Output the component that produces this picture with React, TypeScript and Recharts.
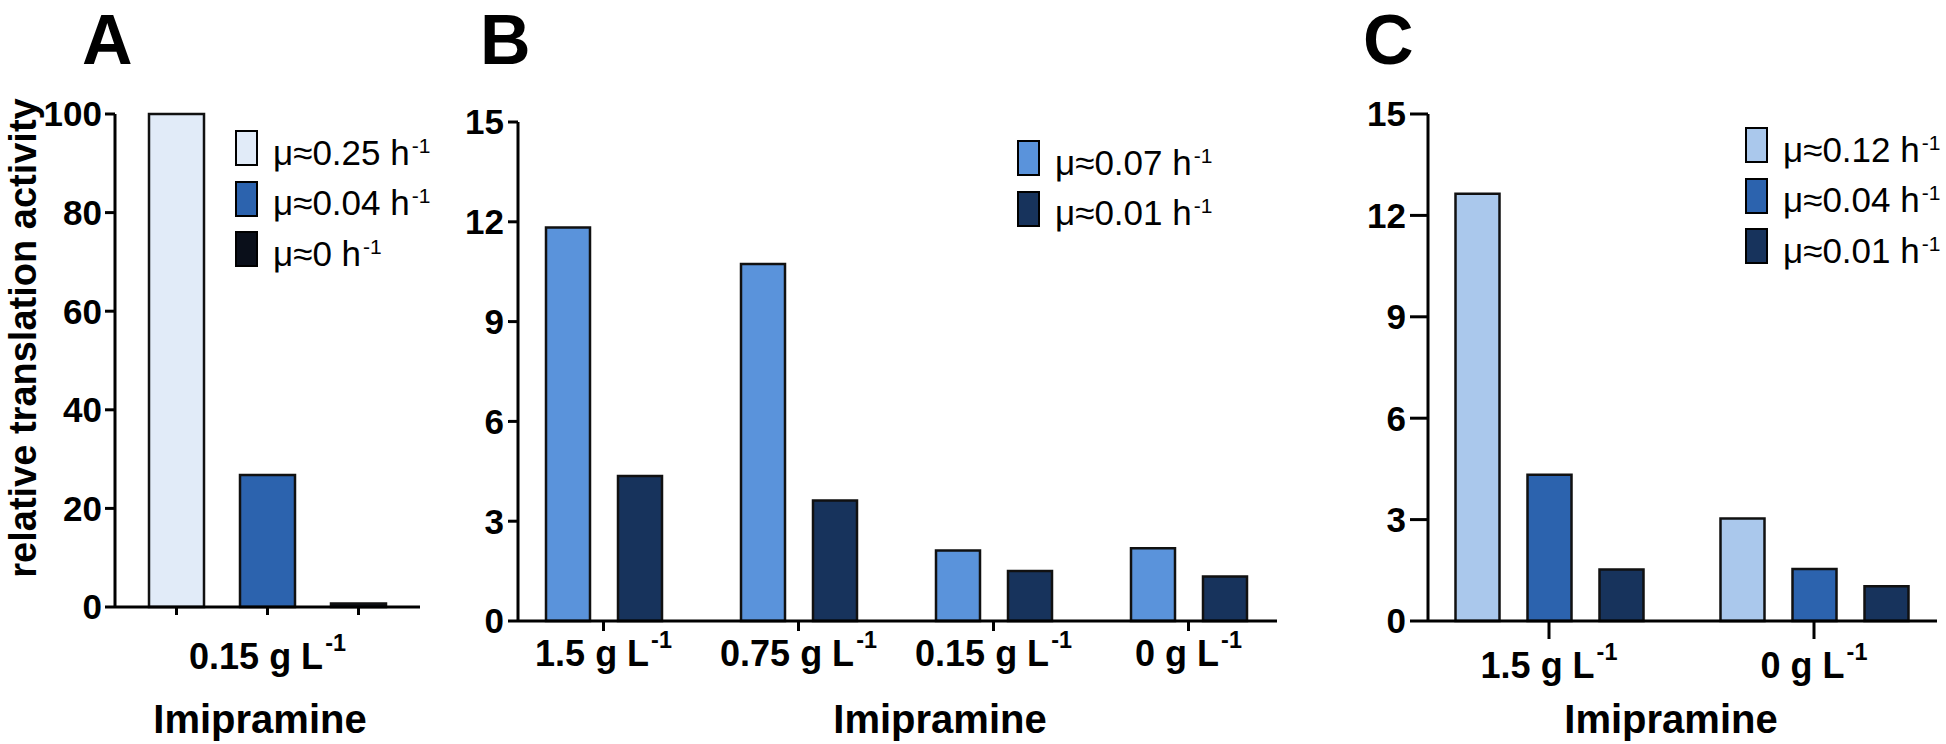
import { Bar, BarChart, Cell, Label, Legend, XAxis, YAxis } from "recharts";

const FONT = "'Liberation Sans', Arial, Helvetica, sans-serif";

// panel A: one dose, three growth rates
const aRates = ["μ≈0.25", "μ≈0.04", "μ≈0"];
const aValues = [100, 26.8, 0.7];
const aColors = ["#E1EBF8", "#2C63AE", "#0A0F1A"];
const aTicks = [0, 20, 40, 60, 80, 100];
const aDose = "0.15 g L";

// panel B
const bDoses = ["1.5 g L", "0.75 g L", "0.15 g L", "0 g L"];
const bFast = [11.83, 10.73, 2.12, 2.19];
const bSlow = [4.36, 3.62, 1.5, 1.34];
const bRates = ["μ≈0.07", "μ≈0.01"];
const bColors = ["#5A93DB", "#17335C"];

// panel C
const cDoses = ["1.5 g L", "0 g L"];
const cFast = [12.64, 3.03];
const cMid = [4.33, 1.54];
const cSlow = [1.52, 1.03];
const cRates = ["μ≈0.12", "μ≈0.04", "μ≈0.01"];
const cColors = ["#AAC8EC", "#2C63AE", "#17335C"];

const yTicks15 = [0, 3, 6, 9, 12, 15];

const aData = aRates.map((rate, i) => ({ rate, value: aValues[i] }));
const bData = bDoses.map((dose, i) => ({ dose, fast: bFast[i], slow: bSlow[i] }));
const cData = cDoses.map((dose, i) => ({ dose, fast: cFast[i], mid: cMid[i], slow: cSlow[i] }));

const axisStyle = { stroke: "#000", strokeWidth: 3 };
const yTickStyle = { fill: "#000", fontSize: 35, fontWeight: 700, fontFamily: FONT };

const doseTick = (labels: (string | null)[] | null) => (props: any) => {
  const { x, y, index, payload } = props;
  const text = labels ? labels[index] : payload.value;
  if (!text) return <g />;
  const fs = 36;
  return (
    <text x={x} y={y} dy="0.71em" textAnchor="middle" fontFamily={FONT} fontWeight={700} fontSize={fs} fill="#000">
      {text}
      <tspan dx={2} dy={-0.5 * fs} fontSize={0.65 * fs}>-1</tspan>
    </text>
  );
};

const axisTitle = (x: number, y: number) => () => (
  <text x={x} y={y} textAnchor="middle" fontFamily={FONT} fontWeight={700} fontSize={40} fill="#000">
    Imipramine
  </text>
);

const yTitle = () => (
  <text x={36} y={338} transform="rotate(-90 36 338)" textAnchor="middle" fontFamily={FONT} fontWeight={700} fontSize={38} fill="#000">
    relative translation activity
  </text>
);

const legendBox = (names: string[], colors: string[]) => () => (
  <div style={{ fontFamily: FONT, fontSize: 35, color: "#000", whiteSpace: "nowrap" }}>
    {names.map((n, i) => (
      <div key={n} style={{ display: "flex", alignItems: "center", height: 50.5 }}>
        <span style={{ width: 23, height: 36, boxSizing: "border-box", border: "2.5px solid #000", background: colors[i] }} />
        <span style={{ marginLeft: 15, position: "relative", top: 4, lineHeight: 1 }}>
          {n} h
          <sup style={{ fontSize: "0.6em", verticalAlign: "baseline", position: "relative", top: "-0.57em", marginLeft: 2 }}>-1</sup>
        </span>
      </div>
    ))}
  </div>
);

const letter = (ch: string, left: number) => (
  <div style={{ position: "absolute", left, top: 5, fontFamily: FONT, fontWeight: 700, fontSize: 70, lineHeight: "70px" }}>{ch}</div>
);

export default function App() {
  return (
    <div style={{ position: "absolute", left: 0, top: 0, width: 1946, height: 744, overflow: "hidden", background: "#fff" }}>
      {letter("A", 82)}
      {letter("B", 480)}
      {letter("C", 1363)}

      <div style={{ position: "absolute", left: 0, top: 0 }}>
        <BarChart width={480} height={744} data={aData} margin={{ top: 114, right: 60, bottom: 7, left: 15 }} barSize={55}>
          <XAxis dataKey="rate" height={130} padding={{ left: 16, right: 16 }} interval={0}
            axisLine={axisStyle} tickLine={axisStyle} tickSize={8} tickMargin={28} tick={doseTick([null, aDose, null])}>
            <Label content={axisTitle(260, 733)} />
          </XAxis>
          <YAxis width={100} domain={[0, 100]} ticks={aTicks} interval={0}
            axisLine={axisStyle} tickLine={axisStyle} tickSize={10} tickMargin={3} tick={yTickStyle}>
            <Label content={yTitle} />
          </YAxis>
          <Bar dataKey="value" isAnimationActive={false} stroke="#111" strokeWidth={2.5}>
            {aData.map((d, i) => <Cell key={d.rate} fill={aColors[i]} />)}
          </Bar>
          <Legend layout="horizontal" verticalAlign="middle" align="center" content={legendBox(aRates, aColors)}
            wrapperStyle={{ left: 235, top: 123, width: "auto" }} />
        </BarChart>
      </div>

      <div style={{ position: "absolute", left: 440, top: 0 }}>
        <BarChart width={860} height={744} data={bData} margin={{ top: 122, right: 23, bottom: 7, left: 8 }} barSize={44} barGap={28}>
          <XAxis dataKey="dose" height={116} padding={{ left: -12, right: -9 }} interval={0}
            axisLine={axisStyle} tickLine={axisStyle} tickSize={10} tickMargin={9} tick={doseTick(null)}>
            <Label content={axisTitle(500, 733)} />
          </XAxis>
          <YAxis width={70} domain={[0, 15]} ticks={yTicks15} interval={0}
            axisLine={axisStyle} tickLine={axisStyle} tickSize={10} tickMargin={4} tick={yTickStyle} />
          <Bar dataKey="fast" fill={bColors[0]} isAnimationActive={false} stroke="#111" strokeWidth={2.5} />
          <Bar dataKey="slow" fill={bColors[1]} isAnimationActive={false} stroke="#111" strokeWidth={2.5} />
          <Legend layout="horizontal" verticalAlign="middle" align="center" content={legendBox(bRates, bColors)}
            wrapperStyle={{ left: 577, top: 133, width: "auto" }} />
        </BarChart>
      </div>

      <div style={{ position: "absolute", left: 1340, top: 0 }}>
        <BarChart width={606} height={744} data={cData} margin={{ top: 114, right: 9, bottom: 7, left: 8 }} barSize={44} barGap={28}>
          <XAxis dataKey="dose" height={116} padding={{ left: -11.5, right: -9.5 }} interval={0}
            axisLine={axisStyle} tickLine={axisStyle} tickSize={18} tickMargin={13} tick={doseTick(null)}>
            <Label content={axisTitle(331, 733)} />
          </XAxis>
          <YAxis width={80} domain={[0, 15]} ticks={yTicks15} interval={0}
            axisLine={axisStyle} tickLine={axisStyle} tickSize={18} tickMargin={4} tick={yTickStyle} />
          <Bar dataKey="fast" fill={cColors[0]} isAnimationActive={false} stroke="#111" strokeWidth={2.5} />
          <Bar dataKey="mid" fill={cColors[1]} isAnimationActive={false} stroke="#111" strokeWidth={2.5} />
          <Bar dataKey="slow" fill={cColors[2]} isAnimationActive={false} stroke="#111" strokeWidth={2.5} />
          <Legend layout="horizontal" verticalAlign="middle" align="center" content={legendBox(cRates, cColors)}
            wrapperStyle={{ left: 405, top: 120, width: "auto" }} />
        </BarChart>
      </div>
    </div>
  );
}
